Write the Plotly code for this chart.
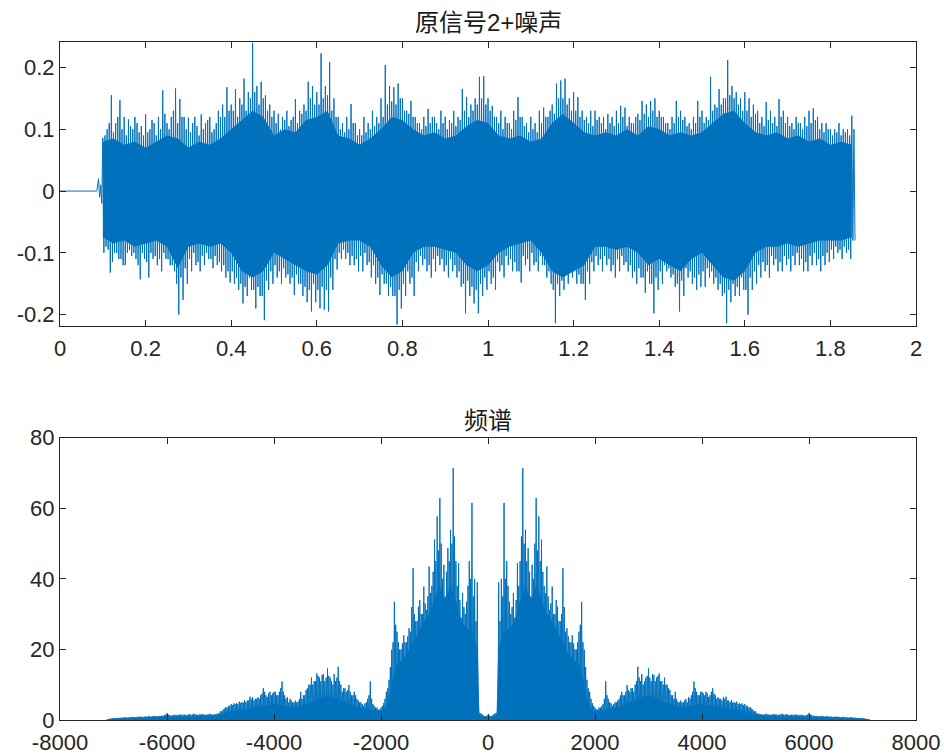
import numpy as np
import plotly.graph_objects as go

BLUE = "#0072BD"
AXC = "#262626"

# ---- time-domain signal: 原信号2 + 噪声 ----
# silent lead-in before the signal starts
lead_t = [0.0, 0.086]
lead_v = [0.0, 0.0]

# per 10 ms: major positive / negative spike extremes, 0.09 s .. 1.85 s
t_env = np.round(np.arange(0.09, 1.8551, 0.01), 3)
spike_hi = [
    0.02,
    0.086, 0.10, 0.155, 0.11, 0.147, 0.12, 0.116, 0.10, 0.11, 0.105,
    0.124, 0.10, 0.11, 0.12, 0.163, 0.11, 0.12, 0.166, 0.149, 0.12,
    0.119, 0.11, 0.105, 0.124, 0.11, 0.12, 0.10, 0.13, 0.14, 0.168,
    0.14, 0.165, 0.15, 0.182, 0.16, 0.240, 0.17, 0.177, 0.155, 0.14,
    0.13, 0.125, 0.12, 0.13, 0.115, 0.149, 0.13, 0.14, 0.177, 0.17,
    0.16, 0.223, 0.17, 0.209, 0.15, 0.12, 0.11, 0.12, 0.141, 0.11,
    0.10, 0.12, 0.11, 0.13, 0.12, 0.15, 0.204, 0.17, 0.168, 0.174,
    0.15, 0.13, 0.146, 0.12, 0.11, 0.12, 0.133, 0.12, 0.11, 0.13,
    0.12, 0.115, 0.13, 0.12, 0.165, 0.152, 0.14, 0.15, 0.185, 0.186,
    0.15, 0.138, 0.12, 0.13, 0.12, 0.11, 0.13, 0.152, 0.12, 0.11,
    0.12, 0.11, 0.13, 0.135, 0.12, 0.14, 0.174, 0.179, 0.182, 0.15,
    0.16, 0.152, 0.13, 0.12, 0.13, 0.13, 0.12, 0.12, 0.125, 0.12,
    0.13, 0.138, 0.135, 0.12, 0.11, 0.125, 0.146, 0.14, 0.146, 0.15,
    0.13, 0.12, 0.11, 0.12, 0.146, 0.13, 0.12, 0.11, 0.12, 0.146,
    0.13, 0.12, 0.185, 0.14, 0.165, 0.15, 0.212, 0.17, 0.16, 0.15,
    0.16, 0.15, 0.14, 0.13, 0.12, 0.144, 0.13, 0.12, 0.149, 0.13,
    0.12, 0.11, 0.12, 0.11, 0.12, 0.13, 0.134, 0.12, 0.11, 0.11,
    0.10, 0.10, 0.11, 0.10, 0.10, 0.122,
]
spike_lo = [
    -0.02,
    -0.09, -0.132, -0.10, -0.11, -0.12, -0.10, -0.105, -0.11, -0.143, -0.11,
    -0.14, -0.11, -0.12, -0.13, -0.11, -0.12, -0.13, -0.20, -0.176, -0.15,
    -0.13, -0.12, -0.13, -0.12, -0.11, -0.125, -0.12, -0.13, -0.14, -0.148,
    -0.15, -0.16, -0.182, -0.17, -0.16, -0.19, -0.17, -0.209, -0.16, -0.15,
    -0.14, -0.15, -0.14, -0.15, -0.168, -0.15, -0.17, -0.18, -0.195, -0.18,
    -0.19, -0.192, -0.195, -0.16, -0.127, -0.11, -0.11, -0.12, -0.12, -0.13,
    -0.13, -0.12, -0.14, -0.15, -0.168, -0.15, -0.17, -0.17, -0.216, -0.19,
    -0.17, -0.15, -0.17, -0.13, -0.12, -0.13, -0.14, -0.13, -0.12, -0.13,
    -0.14, -0.13, -0.14, -0.155, -0.198, -0.17, -0.182, -0.198, -0.17, -0.16,
    -0.15, -0.16, -0.13, -0.14, -0.12, -0.13, -0.13, -0.148, -0.12, -0.13,
    -0.12, -0.13, -0.12, -0.14, -0.15, -0.214, -0.17, -0.16, -0.15, -0.14,
    -0.15, -0.15, -0.176, -0.15, -0.13, -0.12, -0.13, -0.12, -0.13, -0.14,
    -0.13, -0.12, -0.13, -0.14, -0.15, -0.14, -0.165, -0.15, -0.198, -0.16,
    -0.15, -0.13, -0.14, -0.155, -0.195, -0.17, -0.14, -0.15, -0.16, -0.155,
    -0.155, -0.14, -0.15, -0.16, -0.17, -0.214, -0.18, -0.17, -0.17, -0.16,
    -0.20, -0.16, -0.15, -0.14, -0.13, -0.14, -0.12, -0.13, -0.13, -0.12,
    -0.13, -0.12, -0.12, -0.13, -0.13, -0.12, -0.12, -0.13, -0.12, -0.115,
    -0.11, -0.10, -0.11, -0.10, -0.11, -0.08,
]
# secondary (smaller) extremes between the major spikes, same 10 ms grid
mid_hi = [
    0.01,
    0.09, 0.11, 0.095, 0.12, 0.10, 0.09, 0.105, 0.12, 0.095, 0.09,
    0.095, 0.115, 0.09, 0.10, 0.125, 0.10, 0.13, 0.11, 0.12, 0.10,
    0.095, 0.12, 0.09, 0.10, 0.115, 0.095, 0.11, 0.12, 0.12, 0.13,
    0.13, 0.12, 0.14, 0.13, 0.15, 0.16, 0.14, 0.15, 0.13, 0.12,
    0.11, 0.10, 0.115, 0.105, 0.12, 0.11, 0.125, 0.13, 0.15, 0.14,
    0.14, 0.15, 0.155, 0.13, 0.12, 0.10, 0.095, 0.10, 0.11, 0.09,
    0.09, 0.095, 0.10, 0.105, 0.11, 0.12, 0.14, 0.145, 0.14, 0.15,
    0.13, 0.125, 0.12, 0.11, 0.10, 0.105, 0.11, 0.12, 0.10, 0.11,
    0.10, 0.11, 0.105, 0.115, 0.13, 0.12, 0.13, 0.14, 0.15, 0.14,
    0.13, 0.12, 0.11, 0.10, 0.11, 0.10, 0.115, 0.12, 0.105, 0.095,
    0.10, 0.095, 0.11, 0.12, 0.13, 0.125, 0.15, 0.15, 0.14, 0.13,
    0.13, 0.12, 0.115, 0.11, 0.105, 0.115, 0.11, 0.10, 0.11, 0.105,
    0.11, 0.12, 0.105, 0.11, 0.12, 0.115, 0.125, 0.12, 0.13, 0.12,
    0.12, 0.11, 0.10, 0.11, 0.12, 0.115, 0.105, 0.10, 0.11, 0.12,
    0.11, 0.115, 0.13, 0.135, 0.14, 0.15, 0.155, 0.15, 0.14, 0.13,
    0.13, 0.12, 0.125, 0.11, 0.105, 0.115, 0.11, 0.105, 0.12, 0.11,
    0.105, 0.10, 0.11, 0.10, 0.105, 0.11, 0.115, 0.10, 0.095, 0.10,
    0.09, 0.095, 0.09, 0.095, 0.09, 0.10,
]
mid_lo = [
    -0.01,
    -0.10, -0.095, -0.115, -0.10, -0.11, -0.12, -0.095, -0.10, -0.12, -0.10,
    -0.115, -0.10, -0.105, -0.11, -0.10, -0.11, -0.12, -0.15, -0.14, -0.125,
    -0.11, -0.10, -0.115, -0.105, -0.10, -0.11, -0.105, -0.115, -0.12, -0.13,
    -0.13, -0.14, -0.15, -0.155, -0.14, -0.16, -0.155, -0.17, -0.145, -0.13,
    -0.12, -0.13, -0.125, -0.135, -0.14, -0.135, -0.15, -0.155, -0.16, -0.15,
    -0.16, -0.155, -0.16, -0.14, -0.11, -0.10, -0.095, -0.10, -0.105, -0.11,
    -0.105, -0.10, -0.115, -0.12, -0.14, -0.135, -0.15, -0.155, -0.17, -0.16,
    -0.15, -0.13, -0.14, -0.115, -0.105, -0.11, -0.12, -0.11, -0.105, -0.11,
    -0.12, -0.11, -0.12, -0.13, -0.15, -0.145, -0.155, -0.16, -0.15, -0.14,
    -0.13, -0.14, -0.115, -0.12, -0.105, -0.11, -0.115, -0.13, -0.105, -0.11,
    -0.10, -0.115, -0.105, -0.12, -0.13, -0.16, -0.15, -0.145, -0.135, -0.125,
    -0.13, -0.135, -0.15, -0.13, -0.115, -0.105, -0.11, -0.105, -0.11, -0.12,
    -0.11, -0.105, -0.115, -0.12, -0.13, -0.125, -0.14, -0.13, -0.15, -0.14,
    -0.13, -0.12, -0.125, -0.135, -0.15, -0.145, -0.125, -0.13, -0.14, -0.135,
    -0.13, -0.125, -0.13, -0.14, -0.15, -0.165, -0.16, -0.15, -0.155, -0.14,
    -0.16, -0.14, -0.13, -0.12, -0.115, -0.12, -0.105, -0.11, -0.115, -0.105,
    -0.11, -0.105, -0.10, -0.11, -0.115, -0.105, -0.10, -0.11, -0.105, -0.10,
    -0.095, -0.09, -0.095, -0.09, -0.095, -0.08,
]

# dense body of the waveform, per 25 ms
core_t = np.round(np.arange(0.10, 1.8501, 0.025), 3)
core_hi = [
    0.08, 0.085, 0.075, 0.08, 0.07, 0.08, 0.09, 0.085, 0.07, 0.08,
    0.075, 0.085, 0.10, 0.115, 0.13, 0.12, 0.09, 0.10, 0.095, 0.115,
    0.12, 0.13, 0.09, 0.085, 0.075, 0.085, 0.10, 0.12, 0.115, 0.10,
    0.09, 0.095, 0.085, 0.09, 0.105, 0.115, 0.11, 0.09, 0.085, 0.09,
    0.08, 0.085, 0.11, 0.125, 0.11, 0.095, 0.09, 0.095, 0.09, 0.10,
    0.09, 0.105, 0.10, 0.09, 0.095, 0.09, 0.095, 0.11, 0.125, 0.13,
    0.11, 0.095, 0.09, 0.095, 0.085, 0.09, 0.08, 0.085, 0.075, 0.08,
    0.075,
]
core_lo = [
    -0.075, -0.085, -0.08, -0.09, -0.085, -0.08, -0.09, -0.125, -0.09, -0.085,
    -0.09, -0.085, -0.10, -0.13, -0.14, -0.13, -0.10, -0.11, -0.12, -0.13,
    -0.135, -0.12, -0.085, -0.08, -0.08, -0.09, -0.12, -0.14, -0.13, -0.10,
    -0.09, -0.09, -0.095, -0.10, -0.12, -0.13, -0.12, -0.10, -0.09, -0.085,
    -0.08, -0.10, -0.13, -0.14, -0.13, -0.12, -0.09, -0.09, -0.095, -0.09,
    -0.10, -0.12, -0.11, -0.12, -0.13, -0.11, -0.10, -0.12, -0.14, -0.145,
    -0.13, -0.10, -0.09, -0.09, -0.085, -0.09, -0.085, -0.08, -0.08, -0.08,
    -0.075,
]

# ---- magnitude spectrum (symmetric), positive half every 50 Hz ----
spec_f = list(range(0, 7101, 50))
spec_peak = [
    1.5, 1.0, 1.5, 2.0, 39, 40, 61.5, 45, 33.5, 32,
    29, 44.4, 45, 71.4, 53.9, 48.7, 35, 40, 62.9, 57.7,
    51.1, 38, 43.5, 31.2, 37.8, 30, 32.1, 28, 43, 25,
    23.7, 22, 21.7, 20, 25, 33.5, 19.9, 11.4, 8, 4.8,
    3.5, 2.9, 3.5, 4.5, 10.9, 6, 4.7, 4.5, 5, 6,
    8, 7, 9.9, 8, 9, 10, 15.1, 11, 10, 12,
    14.6, 11, 12.8, 12, 13.2, 11, 12, 10, 8.5, 7,
    8, 5.2, 5.5, 5, 6, 6.5, 7, 10.9, 8, 7,
    8, 7, 7.5, 7, 9, 7, 6.5, 6, 6.5, 6.6,
    5.5, 5.6, 5, 5.2, 4.8, 4.7, 4.5, 4, 3.7, 3,
    2.5, 1.8, 1.7, 1.5, 1.8, 1.6, 1.5, 1.7, 1.6, 1.5,
    1.8, 1.5, 1.6, 1.4, 1.5, 1.6, 1.4, 1.5, 1.3, 1.4,
    2.0, 1.4, 1.2, 1.2, 1.1, 1.2, 1.0, 1.1, 1.0, 0.9,
    1.0, 0.9, 0.8, 0.9, 0.8, 0.7, 0.8, 0.7, 0.6, 0.5,
    0.5, 0.4, 0.3,
]
# secondary peaks half-way between the 50 Hz bins
spec_mid = [
    1.2, 1.2, 1.8, 2.5, 28, 35, 40, 38, 30, 36,
    34, 38, 52, 50, 45, 42, 44, 50, 48, 45,
    42, 36, 35, 33, 30, 34, 28, 30, 32, 26,
    22, 24, 20, 22, 27, 22, 15, 9, 6, 4,
    3, 3.5, 4, 6, 7, 5, 4, 5, 5.5, 7,
    7, 8, 8.5, 9, 8, 11, 12, 13, 11, 12.5,
    12, 13, 11, 12.5, 11, 10, 10, 9, 7, 6,
    6, 5, 5, 5.5, 5, 6, 8, 9, 7, 8,
    7.5, 8, 6.5, 8, 7.5, 6, 6, 5.5, 6, 5.5,
    5, 5, 4.8, 4.5, 4.5, 4.2, 4, 3.5, 3.2, 2.5,
    2, 1.6, 1.5, 1.6, 1.5, 1.4, 1.6, 1.5, 1.4, 1.6,
    1.5, 1.6, 1.4, 1.5, 1.4, 1.5, 1.3, 1.4, 1.2, 1.5,
    1.5, 1.2, 1.1, 1.0, 1.1, 1.0, 1.0, 0.9, 0.9, 0.8,
    0.9, 0.8, 0.8, 0.7, 0.7, 0.7, 0.6, 0.6, 0.5, 0.5,
    0.4, 0.3, 0.2,
]
# solid body under the spectral spikes
core_f = [0, 160, 190, 300, 400, 500, 600, 700, 800, 900, 1000, 1100, 1200,
          1300, 1400, 1500, 1600, 1700, 1800, 1850, 1900, 2000, 2200, 2500,
          2800, 3000, 3300, 3600, 4000, 4400, 4800, 5000, 5500, 6000, 6500,
          7000, 7100]
core_mag = [1.0, 1.0, 20, 25, 26, 28, 34, 38, 34, 38, 34, 30, 28,
            25, 22, 19, 17, 16, 10, 6, 3.5, 2.5, 3, 4,
            6, 7, 5, 3.5, 4.5, 3.5, 2.5, 1.5, 1.0, 0.9, 0.7,
            0.4, 0.2]

top_xticks = [0, 0.2, 0.4, 0.6, 0.8, 1, 1.2, 1.4, 1.6, 1.8, 2]
top_xlabels = ["0", "0.2", "0.4", "0.6", "0.8", "1", "1.2", "1.4", "1.6", "1.8", "2"]
top_yticks = [-0.2, -0.1, 0, 0.1, 0.2]
top_ylabels = ["-0.2", "-0.1", "0", "0.1", "0.2"]
bot_xticks = [-8000, -6000, -4000, -2000, 0, 2000, 4000, 6000, 8000]
bot_xlabels = ["-8000", "-6000", "-4000", "-2000", "0", "2000", "4000", "6000", "8000"]
bot_yticks = [0, 20, 40, 60, 80]
bot_ylabels = ["0", "20", "40", "60", "80"]

# ---- build traces ----
q = 0.0025
sig_x, sig_y = list(lead_t), list(lead_v)
for t, hi, mlo, mhi, lo in zip(t_env, spike_hi, mid_lo, mid_hi, spike_lo):
    sig_x += [t, t + q, t + 2 * q, t + 3 * q]
    sig_y += [hi, mlo, mhi, lo]

core_x = list(core_t) + list(core_t[::-1])
core_y = list(core_hi) + list(core_lo[::-1])

# spectral lines: main bins at f, secondary at f + 25, mirrored to negative f
pos_pts = [(f, p) for f, p in zip(spec_f, spec_peak)] + \
          [(f + 25, m) for f, m in zip(spec_f, spec_mid)]
all_pts = sorted(pos_pts + [(-f, v) for f, v in pos_pts if f > 0])
spx, spy = [], []
for f, v in all_pts:
    spx += [f, f + 12.5]
    spy += [v, 0]

cf_full = [-f for f in core_f[:0:-1]] + core_f
cm_full = core_mag[:0:-1] + core_mag

fig = go.Figure()
fig.add_trace(go.Scatter(x=core_x, y=core_y, fill="toself", fillcolor=BLUE,
                         mode="none", xaxis="x", yaxis="y", hoverinfo="skip"))
fig.add_trace(go.Scatter(x=sig_x, y=sig_y, mode="lines",
                         line=dict(color=BLUE, width=1), xaxis="x", yaxis="y"))
fig.add_trace(go.Scatter(x=cf_full, y=cm_full, fill="tozeroy", fillcolor=BLUE,
                         mode="none", xaxis="x2", yaxis="y2", hoverinfo="skip"))
fig.add_trace(go.Scatter(x=spx, y=spy, mode="lines",
                         line=dict(color=BLUE, width=1), xaxis="x2", yaxis="y2"))

W, H = 944, 756
ML, MR, MT, MB = 60, 28, 42, 36
PH = H - MT - MB
tick_font = dict(family="Liberation Sans, Arial, sans-serif", size=22, color=AXC)


def axis_style(**kw):
    base = dict(showline=True, linecolor=AXC, linewidth=1, mirror="ticks",
                ticks="inside", ticklen=6, tickcolor=AXC, tickwidth=1,
                showgrid=False, zeroline=False, tickfont=tick_font,
                tickmode="array", automargin=False)
    base.update(kw)
    return base


def py(ypx):
    return (H - MB - ypx) / PH


title_font = dict(family="Liberation Sans, Noto Sans CJK SC", size=24, color="#1a1a1a")

fig.update_layout(
    width=W, height=H,
    margin=dict(l=ML, r=MR, t=MT, b=MB),
    paper_bgcolor="white", plot_bgcolor="white",
    showlegend=False,
    xaxis=axis_style(domain=[0, 1], anchor="y", range=[0, 2],
                     tickvals=top_xticks, ticktext=top_xlabels,
                     ticklabelstandoff=3),
    yaxis=axis_style(domain=[py(325.7), 1], anchor="x",
                     range=[-0.218, 0.2413],
                     tickvals=top_yticks, ticktext=top_ylabels),
    xaxis2=axis_style(domain=[0, 1], anchor="y2", range=[-8000, 8000],
                      tickvals=bot_xticks, ticktext=bot_xlabels,
                      ticklabelstandoff=3),
    yaxis2=axis_style(domain=[0, py(437.7)], anchor="x2",
                      range=[0, 80],
                      tickvals=bot_yticks, ticktext=bot_ylabels),
    annotations=[
        dict(text="原信号2+噪声", x=0.5, y=py(22), xref="paper", yref="paper",
             showarrow=False, xanchor="center", yanchor="middle", font=title_font),
        dict(text="频谱", x=0.5, y=py(421), xref="paper", yref="paper",
             showarrow=False, xanchor="center", yanchor="middle", font=title_font),
    ],
)

fig.write_html("out.html")
